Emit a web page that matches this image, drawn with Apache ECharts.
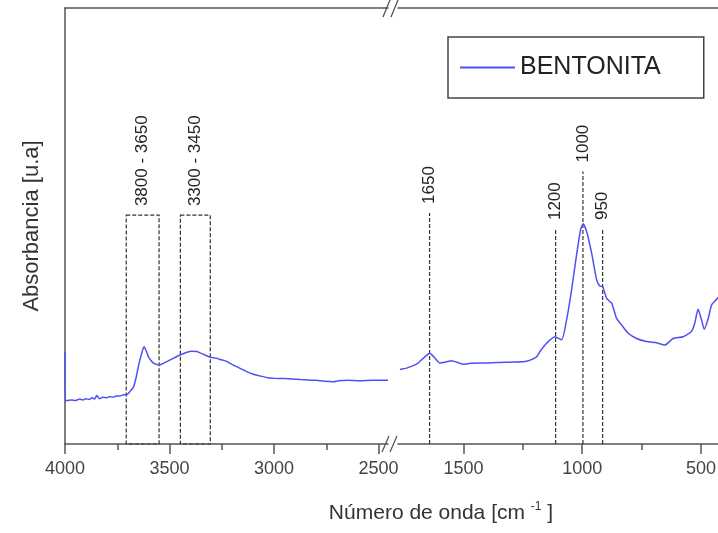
<!DOCTYPE html>
<html>
<head>
    <meta charset="UTF-8"/>
    <title>FTIR bentonita</title>
    <script type="text/javascript" src="https://cdn.jsdelivr.net/npm/echarts@6/dist/echarts.min.js"></script>
    <style>
        html, body { margin: 0; padding: 0; background: #fff; }
        #chart { width: 718px; height: 533px; }
    </style>
</head>
<body>
<div id="chart"></div>
<script>
    // tramo izquierdo del espectro (4000 - 2455 cm-1)
    var onda1 = [4000, 3999, 3985, 3970, 3950, 3930, 3915, 3900, 3885, 3870, 3860, 3848, 3835, 3820, 3800,
        3785, 3770, 3755, 3737, 3720, 3705, 3690, 3673, 3660, 3649, 3635, 3622, 3610, 3601, 3590, 3578,
        3560, 3549, 3530, 3513, 3480, 3450, 3420, 3394, 3370, 3354, 3330, 3305, 3280, 3258, 3230, 3195,
        3160, 3131, 3100, 3067, 3030, 3003, 2950, 2876, 2800, 2760, 2716, 2690, 2650, 2589, 2530, 2455];
    var abs1 = [0.211, 0.099, 0.100, 0.101, 0.100, 0.103, 0.101, 0.104, 0.102, 0.106, 0.103, 0.111, 0.104, 0.107, 0.106,
        0.109, 0.107, 0.110, 0.110, 0.113, 0.113, 0.120, 0.130, 0.152, 0.178, 0.205, 0.223, 0.212, 0.200, 0.192, 0.186,
        0.182, 0.181, 0.185, 0.189, 0.197, 0.204, 0.210, 0.213, 0.212, 0.209, 0.204, 0.199, 0.197, 0.194, 0.190, 0.181,
        0.173, 0.166, 0.160, 0.156, 0.152, 0.151, 0.150, 0.148, 0.146, 0.144, 0.143, 0.145, 0.146, 0.145, 0.146, 0.146];
    // tramo derecho (1776 - 428 cm-1)
    var onda2 = [1768, 1740, 1698, 1663, 1642, 1625, 1600, 1575, 1550, 1520, 1501, 1470, 1431, 1390, 1347, 1290,
        1234, 1192, 1178, 1150, 1115, 1087, 1066, 1045, 1024, 1007, 996, 981, 960, 939, 925, 914, 897, 876,
        855, 834, 806, 771, 729, 687, 652, 617, 575, 540, 526, 512, 497, 486, 469, 455, 434, 428];
    var abs2 = [0.171, 0.174, 0.183, 0.200, 0.208, 0.200, 0.186, 0.188, 0.191, 0.186, 0.183, 0.185, 0.186, 0.186, 0.187, 0.188,
        0.190, 0.200, 0.212, 0.231, 0.246, 0.239, 0.284, 0.353, 0.433, 0.491, 0.505, 0.487, 0.437, 0.376, 0.362, 0.361, 0.334, 0.323,
        0.288, 0.273, 0.254, 0.242, 0.235, 0.232, 0.227, 0.242, 0.246, 0.258, 0.277, 0.309, 0.284, 0.263, 0.288, 0.319, 0.332, 0.337];

    // ticks
    var ticks1 = [4000, 3500, 3000, 2500];
    var minor1 = [3750, 3250, 2750];
    var ticks2 = [1500, 1000, 500];
    var minor2 = [1250, 750];

    // regiones marcadas (cajas) y bandas (lineas)
    var cajaTexto = ['3800 - 3650', '3300 - 3450'];
    var cajaDesde = [3707, 3448];
    var cajaHasta = [3550, 3305];
    var cajaAlto = [0.525, 0.525];

    var bandaTexto = ['1650', '1200', '1000', '950'];
    var bandaPos = [1643, 1112, 997, 914];
    var bandaAlto = [0.530, 0.493, 0.625, 0.493];

    var azul = '#5050f0';
    var gris = '#555';
    var fuente = '"Liberation Sans", Arial, sans-serif';

    function pares(xs, ys) {
        var out = [];
        for (var i = 0; i < xs.length; i++) out.push([xs[i], ys[i]]);
        return out;
    }

    function ejeX(grid, min, max, valores, largo, etiquetas) {
        return {
            type: 'value', gridIndex: grid, inverse: true, min: min, max: max, position: 'bottom',
            axisLine: {show: etiquetas, lineStyle: {color: gris, width: 1.5}},
            axisTick: {show: true, customValues: valores, length: largo, lineStyle: {color: gris, width: 1.5}},
            axisLabel: {
                show: etiquetas, customValues: valores, fontSize: 18, color: '#444', margin: 16, fontFamily: fuente,
                formatter: function (v) { return String(v); }
            },
            splitLine: {show: false}
        };
    }
    function ejeArriba(grid, min, max) {
        return {
            type: 'value', gridIndex: grid, inverse: true, min: min, max: max, position: 'top',
            axisLine: {show: true, onZero: false, lineStyle: {color: gris, width: 1.5}},
            axisTick: {show: false}, axisLabel: {show: false}, splitLine: {show: false}
        };
    }

    var cajaData = [];
    for (var i = 0; i < cajaTexto.length; i++) cajaData.push([cajaDesde[i], cajaHasta[i], cajaAlto[i]]);
    var bandaData = [];
    for (var j = 0; j < bandaTexto.length; j++) bandaData.push([bandaPos[j], bandaAlto[j]]);

    var estiloGuion = {fill: null, stroke: '#333', lineWidth: 1.2, lineDash: [4, 2]};

    function etiqueta(txt, x, y) {
        return {
            type: 'text', x: x, y: y, rotation: Math.PI / 2,
            style: {text: txt, font: '17px ' + fuente, fill: '#222', align: 'left', verticalAlign: 'middle'}
        };
    }

    var chart = echarts.init(document.getElementById('chart'));
    chart.setOption({
        animation: false,
        textStyle: {fontFamily: fuente},
        grid: [
            {left: 65, top: 8, width: 323, height: 436, outerBoundsMode: 'none'},
            {left: 398, top: 8, width: 320, height: 436, outerBoundsMode: 'none'}
        ],
        legend: {
            data: ['BENTONITA'], left: 448, top: 37,
            icon: 'rect', itemWidth: 55, itemHeight: 2,
            padding: [18, 43, 18, 12],
            borderColor: '#444', borderWidth: 1.5,
            textStyle: {fontSize: 25, color: '#222'}
        },
        xAxis: [
            ejeX(0, 2455, 4000, ticks1, 10, true),
            ejeX(0, 2455, 4000, minor1, 6, false),
            ejeArriba(0, 2455, 4000),
            ejeX(1, 428, 1776, ticks2, 10, true),
            ejeX(1, 428, 1776, minor2, 6, false),
            ejeArriba(1, 428, 1776)
        ],
        yAxis: [
            {
                type: 'value', gridIndex: 0, min: 0, max: 1,
                axisLine: {show: true, lineStyle: {color: gris, width: 1.5}},
                axisTick: {show: false}, axisLabel: {show: false}, splitLine: {show: false},
                name: 'Absorbancia [u.a]', nameLocation: 'middle', nameGap: 22,
                nameTextStyle: {fontSize: 22, color: '#333'}
            },
            {type: 'value', gridIndex: 1, min: 0, max: 1, show: false}
        ],
        graphic: [
            {
                type: 'text', x: 441, y: 513,
                style: {
                    text: 'Número de onda [cm {s|-1} ]', font: '21px ' + fuente, fill: '#333',
                    align: 'center', verticalAlign: 'middle',
                    rich: {s: {fontSize: 12, fill: '#333', padding: [0, 0, 12, 0]}}
                }
            },
            {type: 'line', shape: {x1: 382, y1: 452, x2: 389, y2: 436}, style: {stroke: gris, lineWidth: 1.3}},
            {type: 'line', shape: {x1: 390, y1: 452, x2: 397, y2: 436}, style: {stroke: gris, lineWidth: 1.3}},
            {type: 'line', shape: {x1: 383, y1: 17, x2: 390, y2: 0}, style: {stroke: gris, lineWidth: 1.3}},
            {type: 'line', shape: {x1: 391, y1: 17, x2: 398, y2: 0}, style: {stroke: gris, lineWidth: 1.3}}
        ],
        series: [
            {
                name: 'BENTONITA', type: 'line', xAxisIndex: 0, yAxisIndex: 0,
                data: pares(onda1, abs1), showSymbol: false, smooth: 0.2,
                lineStyle: {color: azul, width: 1.5}, itemStyle: {color: azul}
            },
            {
                name: 'BENTONITA', type: 'line', xAxisIndex: 3, yAxisIndex: 1,
                data: pares(onda2, abs2), showSymbol: false, smooth: 0.2,
                lineStyle: {color: azul, width: 1.5}, itemStyle: {color: azul}
            },
            {
                type: 'custom', xAxisIndex: 0, yAxisIndex: 0, data: cajaData, clip: false,
                encode: {x: [0, 1], y: 2},
                renderItem: function (params, api) {
                    var a = api.coord([api.value(0), 0]);
                    var b = api.coord([api.value(1), api.value(2)]);
                    var x = Math.min(a[0], b[0]), w = Math.abs(b[0] - a[0]);
                    return {
                        type: 'group', children: [
                            {type: 'rect', shape: {x: x, y: b[1], width: w, height: a[1] - b[1]}, style: estiloGuion},
                            etiqueta(cajaTexto[params.dataIndex], x + w / 2, b[1] - 9)
                        ]
                    };
                }
            },
            {
                type: 'custom', xAxisIndex: 3, yAxisIndex: 1, data: bandaData, clip: false,
                encode: {x: 0, y: 1},
                renderItem: function (params, api) {
                    var a = api.coord([api.value(0), 0]);
                    var b = api.coord([api.value(0), api.value(1)]);
                    return {
                        type: 'group', children: [
                            {type: 'line', shape: {x1: a[0], y1: a[1], x2: b[0], y2: b[1]}, style: estiloGuion},
                            etiqueta(bandaTexto[params.dataIndex], b[0], b[1] - 9)
                        ]
                    };
                }
            }
        ]
    });
</script>
</body>
</html>
